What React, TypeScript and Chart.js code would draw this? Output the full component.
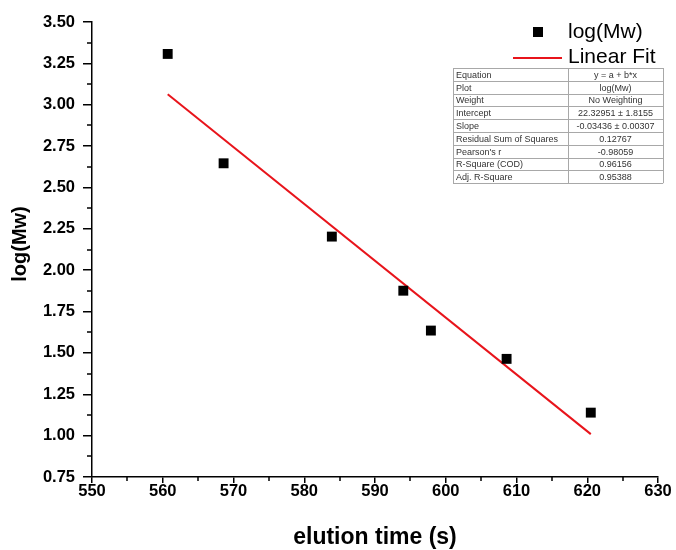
import { useEffect, useRef } from 'react';
import { Chart, registerables } from 'chart.js';

Chart.register(...registerables);

// Measured elution times (s) and log molecular weights
const elutionTime = [560.7, 568.6, 583.9, 594.0, 597.9, 608.6, 620.5];
const logMw = [3.307, 2.646, 2.203, 1.876, 1.635, 1.464, 1.139];

// Linear fit y = a + b*x over the measured range
const fitIntercept = 22.32951;
const fitSlope = -0.03436;
const fitRange = [560.7, 620.5];

// Axis ranges and tick spacing
const xRange = [550, 630];
const xMajorStep = 10;
const xMinorStep = 5;
const yRange = [0.75, 3.5];
const yMajorStep = 0.25;
const yMinorStep = 0.125;

// Fit statistics table
const statNames = [
  'Equation',
  'Plot',
  'Weight',
  'Intercept',
  'Slope',
  'Residual Sum of Squares',
  "Pearson's r",
  'R-Square (COD)',
  'Adj. R-Square',
];
const statValues = [
  'y = a + b*x',
  'log(Mw)',
  'No Weighting',
  '22.32951 ± 1.8155',
  '-0.03436 ± 0.00307',
  '0.12767',
  '-0.98059',
  '0.96156',
  '0.95388',
];

const seriesName = 'log(Mw)';
const fitName = 'Linear Fit';
const xTitle = 'elution time (s)';
const yTitle = 'log(Mw)';

const FONT = '"Liberation Sans", Arial, sans-serif';
const FIT_COLOR = '#e8141b';

const isMultiple = (v: number, step: number) =>
  Math.abs(v / step - Math.round(v / step)) < 1e-6;

const overlayPlugin = {
  id: 'overlay',
  afterDraw(chart: any) {
    const { ctx, chartArea } = chart;
    const xs = chart.scales.x;
    const ys = chart.scales.y;
    ctx.save();

    // minor tick marks
    ctx.strokeStyle = '#000';
    ctx.lineWidth = 1.5;
    ctx.beginPath();
    for (let v = xRange[0]; v <= xRange[1] + 1e-9; v += xMinorStep) {
      if (isMultiple(v, xMajorStep)) continue;
      const px = Math.round(xs.getPixelForValue(v));
      ctx.moveTo(px, chartArea.bottom);
      ctx.lineTo(px, chartArea.bottom + 4);
    }
    for (let v = yRange[0]; v <= yRange[1] + 1e-9; v += yMinorStep) {
      if (isMultiple(v, yMajorStep)) continue;
      const py = Math.round(ys.getPixelForValue(v));
      ctx.moveTo(chartArea.left, py);
      ctx.lineTo(chartArea.left - 5, py);
    }
    ctx.stroke();

    // axis titles
    ctx.fillStyle = '#000';
    ctx.textAlign = 'center';
    ctx.textBaseline = 'middle';
    ctx.font = `bold 23px ${FONT}`;
    ctx.fillText(xTitle, (chartArea.left + chartArea.right) / 2, 538);
    ctx.save();
    ctx.translate(20, 244);
    ctx.rotate(-Math.PI / 2);
    ctx.font = `bold 20px ${FONT}`;
    ctx.fillText(yTitle, 0, 0);
    ctx.restore();

    // legend
    ctx.fillStyle = '#000';
    ctx.fillRect(533, 27, 10, 10);
    ctx.strokeStyle = FIT_COLOR;
    ctx.lineWidth = 2;
    ctx.beginPath();
    ctx.moveTo(513, 58);
    ctx.lineTo(562, 58);
    ctx.stroke();
    ctx.font = `21px ${FONT}`;
    ctx.textAlign = 'left';
    ctx.textBaseline = 'middle';
    ctx.fillStyle = '#000';
    ctx.fillText(seriesName, 568, 32);
    ctx.fillText(fitName, 568, 57);

    // statistics table
    const x0 = 453;
    const x1 = 568;
    const x2 = 663;
    const y0 = 68;
    const rowH = 12.8;
    const n = statNames.length;
    ctx.fillStyle = '#fff';
    ctx.fillRect(x0, y0, x2 - x0, rowH * n);
    ctx.strokeStyle = '#a8a8a8';
    ctx.lineWidth = 1;
    ctx.beginPath();
    for (let i = 0; i <= n; i++) {
      const y = Math.round(y0 + i * rowH) + 0.5;
      ctx.moveTo(x0, y);
      ctx.lineTo(x2, y);
    }
    ctx.moveTo(x0 + 0.5, y0);
    ctx.lineTo(x0 + 0.5, y0 + rowH * n);
    ctx.moveTo(x1 + 0.5, y0);
    ctx.lineTo(x1 + 0.5, y0 + rowH * n);
    ctx.moveTo(x2 + 0.5, y0);
    ctx.lineTo(x2 + 0.5, y0 + rowH * n);
    ctx.stroke();
    ctx.font = `9px ${FONT}`;
    ctx.fillStyle = '#333';
    ctx.textBaseline = 'middle';
    for (let i = 0; i < n; i++) {
      const yc = y0 + (i + 0.5) * rowH + 1;
      ctx.textAlign = 'left';
      ctx.fillText(statNames[i], x0 + 3, yc);
      ctx.textAlign = 'center';
      ctx.fillText(statValues[i], (x1 + x2) / 2, yc);
    }
    ctx.restore();
  },
};

export default function App() {
  const canvasRef = useRef<HTMLCanvasElement | null>(null);

  useEffect(() => {
    const canvas = canvasRef.current;
    if (!canvas) return;

    const points = elutionTime.map((x, i) => ({ x, y: logMw[i] }));
    const fitPoints = fitRange.map((x) => ({ x, y: fitIntercept + fitSlope * x }));

    const chart = new Chart(canvas, {
      type: 'scatter',
      data: {
        datasets: [
          {
            type: 'scatter',
            label: seriesName,
            data: points,
            pointStyle: 'rect',
            pointRadius: 7,
            pointHoverRadius: 7,
            backgroundColor: '#000',
            borderColor: '#000',
            borderWidth: 0,
          },
          {
            type: 'line',
            label: fitName,
            data: fitPoints,
            borderColor: FIT_COLOR,
            borderWidth: 2,
            pointRadius: 0,
            fill: false,
            tension: 0,
          },
        ],
      },
      options: {
        responsive: false,
        animation: false,
        devicePixelRatio: 1,
        layout: { padding: { top: 22, right: 18, left: 0, bottom: 0 } },
        plugins: {
          legend: { display: false },
          tooltip: { enabled: false },
        },
        scales: {
          x: {
            type: 'linear',
            position: 'bottom',
            min: xRange[0],
            max: xRange[1],
            afterFit: (scale: any) => {
              scale.height = 73;
            },
            ticks: {
              stepSize: xMajorStep,
              autoSkip: false,
              maxRotation: 0,
              padding: -1,
              color: '#000',
              font: { family: FONT, size: 16.5, weight: 'bold' },
            },
            grid: {
              display: true,
              drawOnChartArea: false,
              drawTicks: true,
              tickLength: 6,
              color: '#000',
              lineWidth: 1.5,
            },
            border: { display: true, color: '#000', width: 1.5 },
            title: { display: false, text: xTitle },
          },
          y: {
            type: 'linear',
            min: yRange[0],
            max: yRange[1],
            afterFit: (scale: any) => {
              scale.width = 92;
            },
            ticks: {
              stepSize: yMajorStep,
              autoSkip: false,
              padding: 8,
              color: '#000',
              font: { family: FONT, size: 16.5, weight: 'bold' },
              callback: (v: any) => Number(v).toFixed(2),
            },
            grid: {
              display: true,
              drawOnChartArea: false,
              drawTicks: true,
              tickLength: 9,
              color: '#000',
              lineWidth: 1.5,
            },
            border: { display: true, color: '#000', width: 1.5 },
            title: { display: false, text: yTitle },
          },
        },
      },
      plugins: [overlayPlugin],
    });

    return () => chart.destroy();
  }, []);

  return (
    <div style={{ position: 'fixed', left: 0, top: 0, width: 676, height: 550, background: '#fff' }}>
      <canvas ref={canvasRef} width={676} height={550} style={{ display: 'block' }} />
    </div>
  );
}
